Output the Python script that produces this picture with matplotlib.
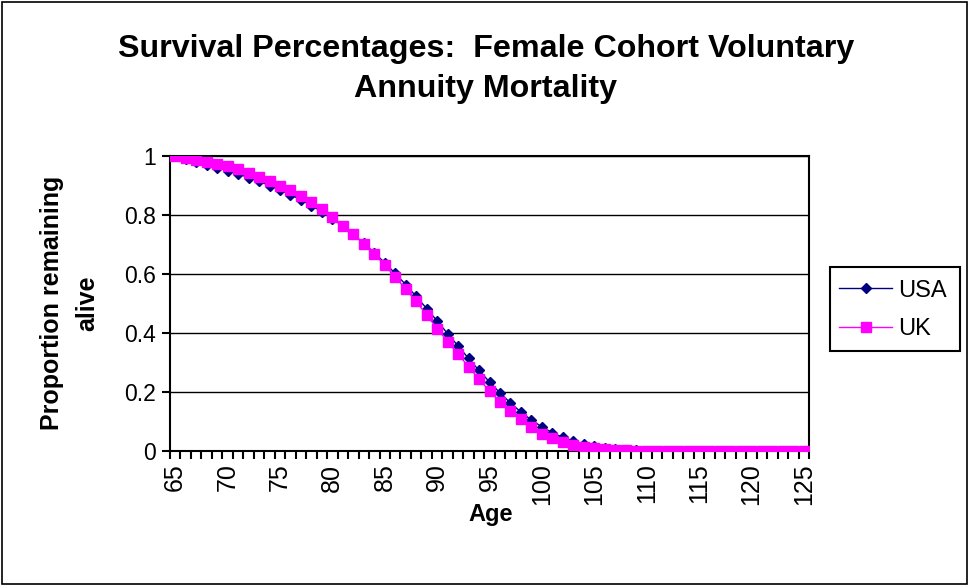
import matplotlib
matplotlib.use("Agg")
import matplotlib.pyplot as plt
from matplotlib.patches import Rectangle
import numpy as np

ages = list(range(65, 126))
usa = [1.000, 0.991, 0.981, 0.971, 0.961, 0.950, 0.939, 0.927, 0.914, 0.900,
       0.885, 0.869, 0.851, 0.832, 0.811, 0.788, 0.762, 0.734, 0.704, 0.672,
       0.638, 0.602, 0.564, 0.524, 0.483, 0.441, 0.398, 0.356, 0.314, 0.273,
       0.234, 0.197, 0.163, 0.132, 0.105, 0.082, 0.062, 0.046, 0.034, 0.024,
       0.017, 0.011, 0.007, 0.004, 0.002, 0.001] + [0.0] * 15
uk = [1.000, 0.994, 0.987, 0.980, 0.973, 0.965, 0.955, 0.943, 0.930, 0.915,
      0.900, 0.884, 0.865, 0.844, 0.819, 0.792, 0.764, 0.735, 0.703, 0.669,
      0.630, 0.590, 0.549, 0.507, 0.461, 0.415, 0.371, 0.328, 0.286, 0.244,
      0.203, 0.167, 0.136, 0.107, 0.081, 0.059, 0.044, 0.031, 0.022, 0.015,
      0.010, 0.006, 0.004, 0.002, 0.001] + [0.0] * 16
y_ticks = [0, 0.2, 0.4, 0.6, 0.8, 1.0]
y_tick_labels = ["0", "0.2", "0.4", "0.6", "0.8", "1"]
title_lines = ["Survival Percentages:  Female Cohort Voluntary", "Annuity Mortality"]

plt.rcParams['font.family'] = ['Liberation Sans', 'DejaVu Sans']

W, H = 969, 586
fig = plt.figure(figsize=(W / 100, H / 100), dpi=100)
ax = fig.add_axes([170 / W, 1 - 451 / H, (809 - 170) / W, (451 - 156) / H])

x = np.arange(len(ages))
ax.plot(x, usa, color='#000080', lw=1.0, marker='D', markersize=5.5,
        markerfacecolor='#000080', markeredgecolor='#000080', label='USA', zorder=3)
ax.plot(x, uk, color='#FF00FF', lw=1.0, marker='s', markersize=7,
        markerfacecolor='#FF00FF', markeredgecolor='#FF00FF', label='UK', zorder=4)

ax.set_xlim(-0.5, len(ages) - 0.5)
ax.set_ylim(0, 1)
ax.set_yticks(y_ticks)
ax.set_yticklabels(y_tick_labels, fontsize=16.5)
ax.yaxis.grid(True, color='black', lw=1.0)
ax.set_axisbelow(True)

major = [i for i, a in enumerate(ages) if a % 5 == 0]
ax.set_xticks(major)
ax.set_xticklabels([str(ages[i]) for i in major], rotation=90, fontsize=18)
ax.set_xticks(np.arange(-0.5, len(ages), 1.0), minor=True)
ax.tick_params(axis='x', which='major', length=0, pad=9)
ax.tick_params(axis='x', which='minor', length=6, width=1.5, direction='out')
ax.tick_params(axis='y', length=6, width=1.5, direction='out', pad=4)
for s in ax.spines.values():
    s.set_linewidth(1.5)
    s.set_color('black')

fig.text(486 / W, 1 - 57 / H, title_lines[0], ha='center', va='baseline',
         fontsize=23.2, fontweight='bold')
fig.text(486 / W, 1 - 97 / H, title_lines[1], ha='center', va='baseline',
         fontsize=23.2, fontweight='bold')
fig.text(52 / W, 1 - 303 / H, "Proportion remaining", rotation=90, ha='center',
         va='center', fontsize=18, fontweight='bold')
fig.text(87 / W, 1 - 303 / H, "alive", rotation=90, ha='center',
         va='center', fontsize=18, fontweight='bold')
fig.text(491 / W, 1 - 514 / H, "Age", ha='center', va='center',
         fontsize=17, fontweight='bold')

leg = ax.legend(loc='center left', bbox_to_anchor=(832 / W, 1 - 310 / H),
                bbox_transform=fig.transFigure, borderaxespad=0, frameon=False,
                fontsize=17, handlelength=2.25, handletextpad=0.25,
                labelspacing=0.7, borderpad=0.3)
fig.patches.append(Rectangle((830 / W, 1 - 351 / H), 130 / W, 84 / H,
                             transform=fig.transFigure, fill=False,
                             edgecolor='black', lw=1.5))

fig.patches.append(Rectangle((2 / W, 2 / H), 1 - 4 / W, 1 - 4 / H,
                             transform=fig.transFigure, fill=False,
                             edgecolor='black', lw=1.2))

fig.savefig("out.png", dpi=100)
